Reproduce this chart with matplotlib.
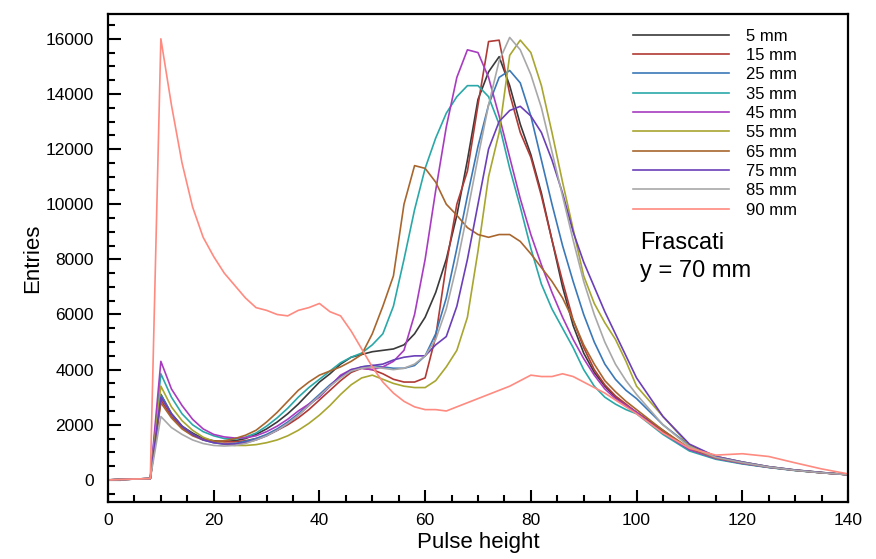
import matplotlib
matplotlib.use("Agg")
import matplotlib.pyplot as plt
from matplotlib.ticker import MultipleLocator

plt.rcParams['font.family'] = ['Liberation Sans', 'DejaVu Sans']

# bin positions (pulse height)
x = [0, 8] + list(range(10, 100, 2)) + list(range(100, 141, 5))

labels = ["5 mm", "15 mm", "25 mm", "35 mm", "45 mm", "55 mm", "65 mm", "75 mm", "85 mm", "90 mm"]
colors = ["#3a3a3a", "#b03a35", "#3b78b8", "#2aa8a8", "#a83cc0", "#a8a630", "#a8662e", "#6b3fb8", "#a8a8a8", "#ff8a80"]

y5 = [0, 50, 3100, 2400, 1950, 1700, 1500, 1420, 1400, 1420, 1500, 1650, 1850, 2100, 2400, 2750, 3150, 3550,
      3850, 4200, 4450, 4550, 4650, 4700, 4750, 4900, 5300, 5900, 6800, 8000, 9600, 11600, 13800, 14800, 15350,
      14300, 12900, 11800, 10400, 8700, 7000, 5600, 4600, 3900, 3400, 3000, 2700, 2450, 1800, 1100, 780, 600,
      460, 350, 260, 190]
y15 = [0, 50, 2900, 2300, 1900, 1650, 1480, 1400, 1380, 1380, 1420, 1500, 1620, 1800, 2000, 2250, 2550, 2900,
       3250, 3600, 3900, 4050, 4000, 3850, 3650, 3550, 3550, 3700, 5200, 7800, 10000, 11200, 13600, 15900, 15950,
       14000, 12600, 11700, 10300, 8700, 7200, 5800, 4800, 4000, 3450, 3050, 2750, 2450, 1750, 1100, 780, 600,
       460, 350, 260, 190]
y25 = [0, 50, 3100, 2400, 1950, 1650, 1450, 1350, 1300, 1320, 1400, 1500, 1650, 1850, 2100, 2400, 2750, 3100,
       3450, 3750, 3950, 4100, 4150, 4100, 4050, 4050, 4150, 4500, 5300, 6600, 8400, 10300, 12100, 13600, 14600,
       14850, 14400, 13200, 11600, 10000, 8500, 7200, 6000, 5000, 4200, 3650, 3250, 2950, 2000, 1250, 850, 650,
       480, 360, 270, 190]
y35 = [0, 50, 3850, 3000, 2400, 2000, 1750, 1600, 1500, 1480, 1550, 1700, 1950, 2250, 2600, 3000, 3350, 3650,
       3950, 4250, 4450, 4600, 4900, 5300, 6300, 8000, 9800, 11300, 12400, 13300, 13900, 14300, 14300, 13900,
       12900, 11300, 9900, 8400, 7100, 6200, 5500, 4800, 4000, 3400, 3000, 2750, 2550, 2400, 1650, 1050, 750,
       580, 450, 340, 260, 190]
y45 = [0, 50, 4300, 3300, 2700, 2200, 1850, 1650, 1560, 1520, 1530, 1600, 1750, 1950, 2200, 2500, 2750, 3000,
       3400, 3800, 4000, 4050, 4000, 4100, 4300, 4700, 6000, 8000, 10500, 12800, 14600, 15600, 15500, 14600,
       13200, 11700, 10200, 8900, 7800, 6800, 5900, 5100, 4400, 3800, 3300, 2950, 2700, 2450, 1700, 1100, 780,
       600, 460, 350, 260, 190]
y55 = [0, 50, 3400, 2650, 2150, 1800, 1550, 1400, 1300, 1250, 1250, 1280, 1350, 1450, 1600, 1800, 2050, 2350,
       2700, 3100, 3450, 3700, 3800, 3650, 3500, 3400, 3350, 3350, 3600, 4100, 4700, 5900, 8300, 11000, 12600,
       15400, 15950, 15500, 14300, 12600, 10800, 9100, 7400, 6400, 5700, 5100, 4300, 3400, 2300, 1250, 850, 650,
       480, 360, 270, 190]
y65 = [0, 50, 2800, 2250, 1850, 1600, 1450, 1400, 1420, 1500, 1620, 1800, 2100, 2450, 2850, 3250, 3550, 3800,
       3950, 4100, 4300, 4550, 5300, 6300, 7400, 10000, 11400, 11300, 10800, 10000, 9600, 9150, 8900, 8800, 8900,
       8900, 8650, 8200, 7700, 7200, 6600, 5800, 4900, 4200, 3600, 3200, 2850, 2550, 1800, 1150, 800, 620, 470,
       350, 260, 190]
y75 = [0, 50, 3000, 2400, 1950, 1650, 1450, 1350, 1300, 1300, 1350, 1450, 1600, 1800, 2050, 2350, 2700, 3050,
       3400, 3750, 4000, 4100, 4150, 4200, 4350, 4450, 4500, 4500, 4900, 5200, 6300, 8000, 10000, 12000, 13000,
       13400, 13550, 13200, 12600, 11600, 10400, 9000, 7900, 7000, 6100, 5300, 4500, 3700, 2300, 1300, 850, 650,
       480, 360, 270, 190]
y85 = [0, 50, 2300, 1900, 1650, 1450, 1320, 1250, 1230, 1250, 1320, 1450, 1600, 1800, 2050, 2350, 2700, 3050,
       3400, 3700, 3950, 4050, 4100, 4050, 4000, 4050, 4200, 4500, 5100, 6200, 7800, 9700, 11700, 13600, 15200,
       16050, 15600, 14700, 13500, 11900, 10300, 8700, 7200, 6000, 5000, 4200, 3600, 3100, 2000, 1200, 820, 630,
       470, 350, 260, 190]
y90 = [0, 50, 16000, 13600, 11500, 9900, 8800, 8100, 7500, 7050, 6600, 6250, 6150, 6000, 5950, 6150, 6250, 6400,
       6100, 5950, 5400, 4750, 4100, 3550, 3150, 2850, 2650, 2550, 2550, 2500, 2650, 2800, 2950, 3100, 3250, 3400,
       3600, 3800, 3750, 3750, 3850, 3750, 3550, 3350, 3150, 2900, 2650, 2400, 1700, 1150, 900, 950, 850, 620,
       400, 220]

series = [y5, y15, y25, y35, y45, y55, y65, y75, y85, y90]

fig = plt.figure(figsize=(8.76, 5.59), dpi=100)
ax = fig.add_axes([0.1233, 0.102, 0.8447, 0.873])

for ys, lab, c in zip(series, labels, colors):
    ax.plot(x, ys, color=c, lw=1.2, label=lab)

ax.set_xlim(0, 140)
ax.set_ylim(-800, 16900)
ax.xaxis.set_major_locator(MultipleLocator(20))
ax.xaxis.set_minor_locator(MultipleLocator(5))
ax.yaxis.set_major_locator(MultipleLocator(2000))
ax.yaxis.set_minor_locator(MultipleLocator(500))
ax.tick_params(which='both', direction='in', top=False, right=False, width=1.5, labelsize=12.5)
ax.tick_params(which='major', length=9)
ax.tick_params(which='minor', length=5)
ax.tick_params(axis='x', pad=8)
ax.tick_params(axis='y', pad=10)
for s in ax.spines.values():
    s.set_linewidth(1.6)

ax.set_xlabel("Pulse height", fontsize=16, labelpad=3)
ax.set_ylabel("Entries", fontsize=16, labelpad=2)

ax.legend(loc='upper left', bbox_to_anchor=(0.709, 0.97), frameon=False, fontsize=12,
          handlelength=5.8, handletextpad=1.0, labelspacing=0.26, borderaxespad=0, borderpad=0)

ax.text(0.719, 0.502, "Frascati\ny = 70 mm", transform=ax.transAxes, fontsize=17,
        va='center', ha='left', linespacing=1.4)

fig.savefig("out.png", dpi=100)
